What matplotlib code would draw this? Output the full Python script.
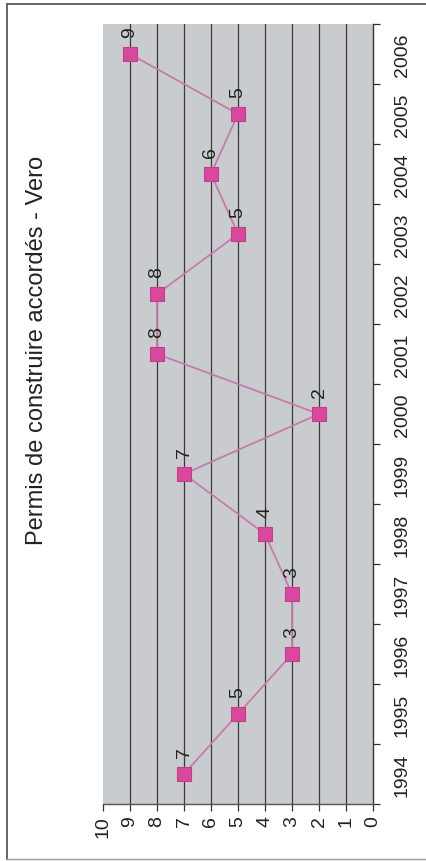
import matplotlib
matplotlib.use("Agg")
import matplotlib.pyplot as plt
from matplotlib.lines import Line2D
import numpy as np

plt.rcParams['font.family'] = ['Liberation Sans', 'DejaVu Sans']

title = "Permis de construire accordés - Vero"
years = ["1994", "1995", "1996", "1997", "1998", "1999", "2000",
         "2001", "2002", "2003", "2004", "2005", "2006"]
values = [7, 5, 3, 3, 4, 7, 2, 8, 8, 5, 6, 5, 9]
value_ticks = [0, 1, 2, 3, 4, 5, 6, 7, 8, 9, 10]

W, H = 426, 862
fig = plt.figure(figsize=(W / 100, H / 100), dpi=100)
fig.patch.set_facecolor('white')

ax = fig.add_axes([103 / W, 1 - 805 / H, 270 / W, 780 / H])
ax.set_facecolor('#c9cccf')

pos = np.arange(len(years))

# gridlines at interior value ticks
for t in value_ticks[1:-1]:
    ax.axvline(t, color='#3a3a3a', lw=0.9, zorder=1)

ax.plot(values, pos, color='#c77aab', lw=1.3, marker='s', markersize=9.5,
        markerfacecolor='#d9489c', markeredgecolor='#c23d8a', markeredgewidth=0.8,
        zorder=3)

for v, p in zip(values, pos):
    ax.annotate(str(v), (v, p), xytext=(0, 22), textcoords='offset pixels',
                rotation=90, ha='center', va='center', fontsize=14, color='#222222',
                zorder=4)

ax.set_xlim(10, 0)
ax.set_ylim(-0.5, len(years) - 0.5)

# value axis (bottom)
ax.set_xticks(value_ticks)
ax.set_xticklabels([str(t) for t in value_ticks], rotation=90, fontsize=14, color='#222222')
ax.tick_params(axis='x', direction='out', length=5, width=0.9, color='#333333', pad=3)

# year axis (right)
ax.yaxis.tick_right()
ax.set_yticks(pos)
ax.set_yticklabels(years, rotation=90, va='center', fontsize=14, color='#222222')
ax.set_yticks(np.arange(len(years) + 1) - 0.5, minor=True)
ax.tick_params(axis='y', which='major', length=0, pad=15)
ax.tick_params(axis='y', which='minor', direction='out', length=5, width=0.9, color='#333333')

for s in ['top', 'left']:
    ax.spines[s].set_visible(False)
ax.spines['right'].set_color('#333333')
ax.spines['bottom'].set_color('#555555')
ax.spines['right'].set_linewidth(1.0)
ax.spines['bottom'].set_linewidth(1.0)

fig.text(37 / W, 1 - 350 / H, title, rotation=90, ha='center', va='center',
         fontsize=17, color='#222222')

# outer chart frame
fc = '#5a5a5a'
fig.add_artist(Line2D([7 / W, 1.0], [1 - 5 / H, 1 - 5 / H], transform=fig.transFigure, color=fc, lw=1.3))
fig.add_artist(Line2D([7 / W, 7 / W], [1 - 5 / H, 1 - 860 / H], transform=fig.transFigure, color=fc, lw=1.3))
fig.add_artist(Line2D([7 / W, 1.0], [1 - 860 / H, 1 - 860 / H], transform=fig.transFigure, color='#9a9a9a', lw=1.0))

fig.savefig('out.png', dpi=100)
